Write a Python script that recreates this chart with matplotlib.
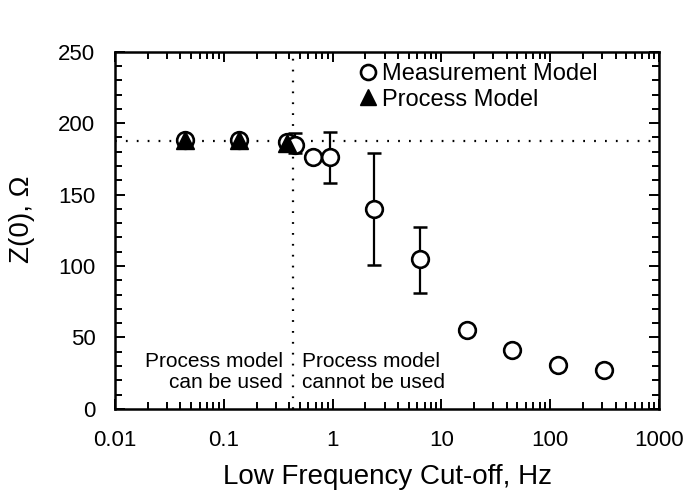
import matplotlib
matplotlib.use("Agg")
import matplotlib.pyplot as plt
from matplotlib.ticker import LogLocator, MultipleLocator, FixedLocator, FixedFormatter

plt.rcParams["font.family"] = ["Liberation Sans", "DejaVu Sans"]

# -------------------------
# Data
# -------------------------
# measurement model: low-frequency cut-off (Hz) vs Z(0) (ohm)
meas_freq = [0.044, 0.138, 0.38, 0.45, 0.66, 0.95, 2.4, 6.3, 17.2, 44.6, 118, 310]
meas_z = [188, 188, 187, 185, 176, 176, 140, 105, 55, 41, 31, 27]
meas_err_lo = [0, 0, 0, 6, 0, 18, 39, 24, 0, 0, 0, 0]
meas_err_hi = [0, 0, 0, 8, 0, 18, 39, 22, 0, 0, 0, 0]

# process model estimates (only valid at low cut-off)
proc_freq = [0.044, 0.138, 0.38]
proc_z = [188, 188, 186]

z_dc = 187.5          # horizontal reference level
f_limit = 0.43        # boundary where process model stops working

x_ticks = [0.01, 0.1, 1, 10, 100, 1000]
x_tick_labels = ["0.01", "0.1", "1", "10", "100", "1000"]

# -------------------------
# Plot
# -------------------------
fig = plt.figure(figsize=(6.88, 4.98), dpi=100)
ax = fig.add_axes([0.167, 0.179, 0.791, 0.717])

dots = dict(color="black", lw=1.6, dashes=(0.8, 4.1))
ax.axhline(z_dc, **dots, zorder=1)
ax.axvline(f_limit, **dots, zorder=1)

ax.errorbar(meas_freq, meas_z, yerr=[meas_err_lo, meas_err_hi], fmt="none",
            ecolor="black", elinewidth=1.6, capsize=5, capthick=1.8, zorder=2)
ax.plot(meas_freq, meas_z, "o", ms=12, mfc="white", mec="black", mew=1.9,
        ls="none", zorder=3, label="Measurement Model")
ax.plot(proc_freq, proc_z, "^", ms=13, mfc="black", mec="black",
        ls="none", zorder=4, label="Process Model")

ax.set_xscale("log")
ax.set_xlim(0.01, 1000)
ax.set_ylim(0, 250)

ax.xaxis.set_major_locator(FixedLocator(x_ticks))
ax.xaxis.set_major_formatter(FixedFormatter(x_tick_labels))
ax.xaxis.set_minor_locator(LogLocator(base=10, subs=range(2, 10), numticks=20))
ax.yaxis.set_major_locator(MultipleLocator(50))
ax.yaxis.set_minor_locator(MultipleLocator(10))

ax.tick_params(which="both", direction="in", top=True, right=True,
               width=1.4, labelsize=16, colors="black")
ax.tick_params(which="major", length=7)
ax.tick_params(which="minor", length=5)
ax.tick_params(axis="x", which="major", pad=15)
ax.tick_params(axis="y", which="major", pad=14)
for s in ax.spines.values():
    s.set_linewidth(1.8)

ax.set_xlabel("Low Frequency Cut-off, Hz", fontsize=20)
ax.xaxis.set_label_coords(0.5, -0.155)
ax.set_ylabel("Z(0), \u03a9", fontsize=20)
ax.yaxis.set_label_coords(-0.147, 0.53)

leg = ax.legend(loc="upper left", bbox_to_anchor=(0.443, 0.968), frameon=False,
                fontsize=17, handletextpad=0.1, handlelength=1.0,
                labelspacing=0.15, borderpad=0, borderaxespad=0, markerscale=0.9)

ax.text(0.35, 12, "Process model\ncan be used", ha="right", va="bottom",
        fontsize=15, linespacing=1.1)
ax.text(0.52, 12, "Process model\ncannot be used", ha="left", va="bottom",
        fontsize=15, linespacing=1.1)

fig.savefig("out.png", dpi=100)
